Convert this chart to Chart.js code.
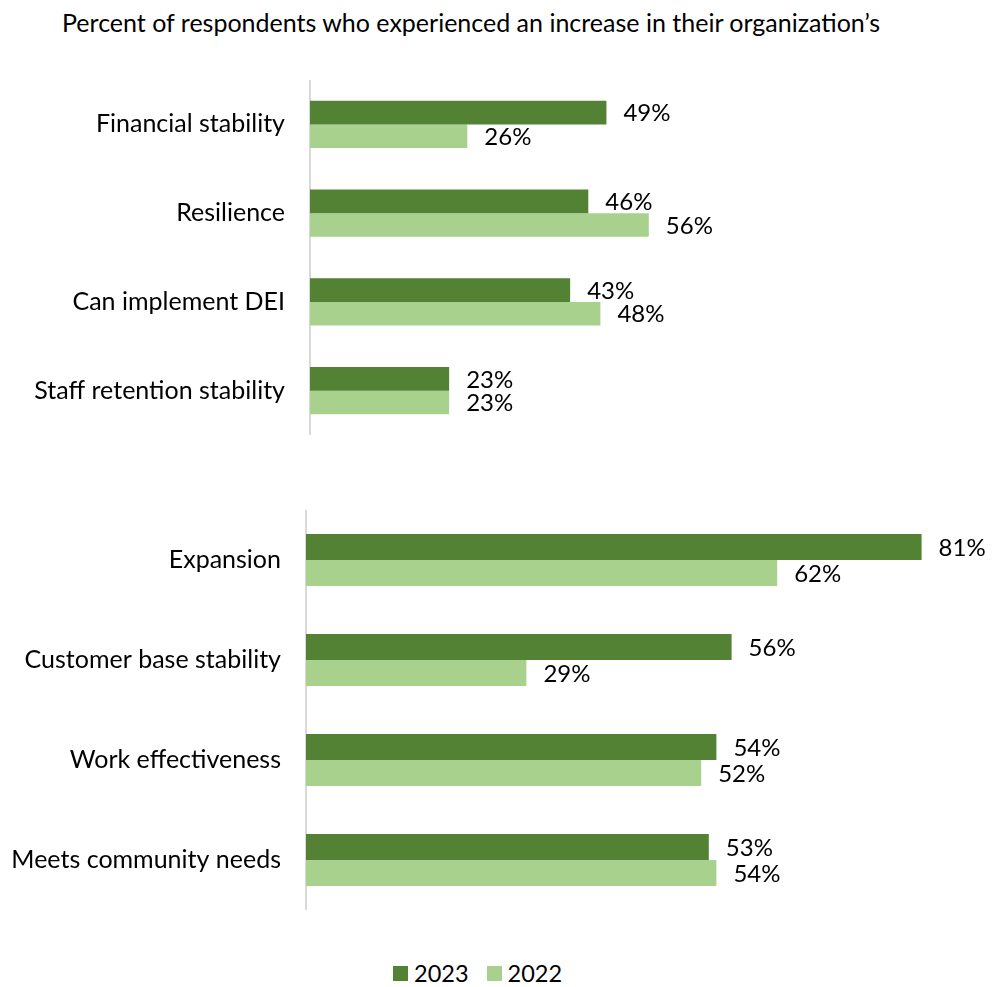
<!DOCTYPE html>
<html>
<head>
<meta charset="utf-8">
<script src="https://cdn.jsdelivr.net/npm/chart.js@4.4.1/dist/chart.umd.min.js"></script>
<style>
  body { margin: 0; background: #fff; font-family: Lato, "Open Sans", sans-serif; color: #000; }
  #page { position: relative; width: 992px; height: 987px; }
  .box { position: absolute; left: 0; width: 992px; }
  #title { position: absolute; left: 62px; top: 7px; font-size: 25px; white-space: nowrap; }
  #legend { position: absolute; left: 393px; top: 956px; height: 34px; font-size: 23.5px; display: flex; align-items: center; }
  #legend span.sw { display: inline-block; width: 15px; height: 15px; margin-right: 6px; }
  #legend span.item { display: flex; align-items: center; margin-right: 18px; }
</style>
</head>
<body>
<div id="page">
  <div id="title">Percent of respondents who experienced an increase in their organization’s</div>
  <div class="box" style="top:80px;height:355px"><canvas id="topChart"></canvas></div>
  <div class="box" style="top:510px;height:400px"><canvas id="bottomChart"></canvas></div>
  <div id="legend"></div>
</div>
<script>
// Survey results, grouped into two panels
const seriesNames = ['2023', '2022'];
const seriesColors = ['#548235', '#A9D18E'];

const topCategories = ['Financial stability', 'Resilience', 'Can implement DEI', 'Staff retention stability'];
const top2023 = [49, 46, 43, 23];
const top2022 = [26, 56, 48, 23];

const bottomCategories = ['Expansion', 'Customer base stability', 'Work effectiveness', 'Meets community needs'];
const bottom2023 = [81, 56, 54, 53];
const bottom2022 = [62, 29, 52, 54];

const FONT = 'Lato, "Open Sans", sans-serif';
const FONT_SIZE = 25;

// draws "NN%" just past the end of each bar
const valueLabels = {
  id: 'valueLabels',
  afterDatasetsDraw(chart) {
    const ctx = chart.ctx;
    ctx.save();
    ctx.font = '24px ' + FONT;
    ctx.fillStyle = '#000';
    ctx.textBaseline = 'middle';
    ctx.textAlign = 'left';
    chart.data.datasets.forEach((ds, i) => {
      chart.getDatasetMeta(i).data.forEach((bar, j) => {
        ctx.fillText(ds.data[j] + '%', bar.x + 17, bar.y + 1);
      });
    });
    ctx.restore();
  }
};

function makeChart(id, labels, a, b, max, leftWidth, padRight, catPct) {
  return new Chart(document.getElementById(id), {
    type: 'bar',
    data: {
      labels: labels,
      datasets: [
        { label: seriesNames[0], data: a, backgroundColor: seriesColors[0] },
        { label: seriesNames[1], data: b, backgroundColor: seriesColors[1] }
      ]
    },
    options: {
      indexAxis: 'y',
      responsive: true,
      maintainAspectRatio: false,
      animation: false,
      layout: { padding: { right: padRight, top: 0, bottom: 0, left: 0 } },
      datasets: { bar: { barPercentage: 1, categoryPercentage: catPct } },
      plugins: { legend: { display: false }, tooltip: { enabled: false } },
      scales: {
        x: { display: false, min: 0, max: max },
        y: {
          afterFit(scale) {
            // fixed gutter for the category names, no extra vertical padding
            scale.width = leftWidth;
            scale.paddingTop = 0;
            scale.paddingBottom = 0;
          },
          grid: { display: false, drawTicks: false },
          border: { display: true, color: '#D9D9D9', width: 2 },
          ticks: { color: '#000', padding: 25, font: { family: FONT, size: FONT_SIZE } }
        }
      }
    },
    plugins: [valueLabels]
  });
}

makeChart('topChart', topCategories, top2023, top2022, 100, 310, 77, 0.53);
makeChart('bottomChart', bottomCategories, bottom2023, bottom2022, 90, 306, 2, 0.52);

const legend = document.getElementById('legend');
seriesNames.forEach((name, i) => {
  const item = document.createElement('span');
  item.className = 'item';
  item.innerHTML = '<span class="sw" style="background:' + seriesColors[i] + '"></span>' + name;
  legend.appendChild(item);
});
</script>
</body>
</html>
